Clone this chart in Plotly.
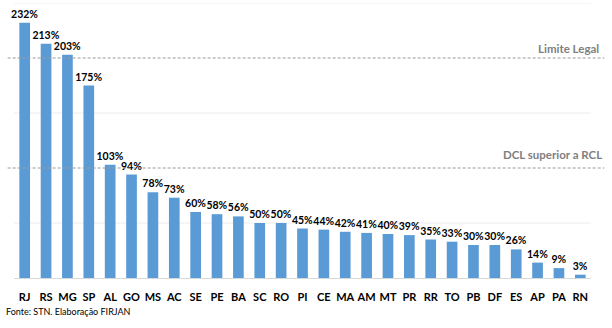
import plotly.graph_objects as go

estados = ["RJ", "RS", "MG", "SP", "AL", "GO", "MS", "AC", "SE", "PE", "BA", "SC", "RO", "PI",
           "CE", "MA", "AM", "MT", "PR", "RR", "TO", "PB", "DF", "ES", "AP", "PA", "RN"]
dcl_rcl = [232, 213, 203, 175, 103, 94, 78, 73, 60, 58, 56, 50, 50, 45,
           44, 42, 41, 40, 39, 35, 33, 30, 30, 26, 14, 9, 3]
limite_legal = 200
dcl_igual_rcl = 100
grid_vals = [50, 150, 250]

BAR = "#5b9bd5"
FONT = "Lato"

fig = go.Figure()
fig.add_trace(go.Bar(
    x=estados, y=dcl_rcl,
    marker=dict(color=BAR, line=dict(width=0)),
    width=0.5,
    text=[f"{v}%" for v in dcl_rcl],
    textposition="outside",
    textfont=dict(family=FONT, size=10.5, color="#000000", weight="bold"),
    cliponaxis=False,
    hoverinfo="x+y",
))

shapes = []
for g in grid_vals:
    shapes.append(dict(type="line", xref="paper", yref="y", x0=0, x1=1, y0=g, y1=g,
                       line=dict(color="#ececec", width=1), layer="below"))
for ref in [limite_legal, dcl_igual_rcl]:
    shapes.append(dict(type="line", xref="paper", yref="y", x0=-0.011, x1=1.023, y0=ref, y1=ref,
                       line=dict(color="#9a9a9a", width=1, dash="3px,2px"), layer="above"))

annotations = [
    dict(text="Limite Legal", xref="paper", yref="y", x=1.017, y=limite_legal, yshift=10,
         xanchor="right", yanchor="middle", showarrow=False,
         font=dict(family=FONT, size=11.5, color="#7f7f7f", weight="bold")),
    dict(text="DCL superior a RCL", xref="paper", yref="y", x=1.022, y=dcl_igual_rcl, yshift=14,
         xanchor="right", yanchor="middle", showarrow=False,
         font=dict(family=FONT, size=11.5, color="#7f7f7f", weight="bold")),
    dict(text="Fonte: STN. Elaboração FIRJAN", xref="paper", yref="paper", x=-0.017, y=0,
         yshift=-33, xanchor="left", yanchor="middle", showarrow=False,
         font=dict(family=FONT, size=9, color="#000000")),
]

fig.update_layout(
    width=612, height=328,
    margin=dict(l=14, r=21, t=3, b=50),
    paper_bgcolor="white", plot_bgcolor="white",
    showlegend=False, bargap=0.5,
    uniformtext=dict(minsize=10.5, mode="show"),
    shapes=shapes, annotations=annotations,
    xaxis=dict(showline=True, linecolor="#d9d9d9", linewidth=1, ticks="",
               tickfont=dict(family=FONT, size=11, color="#000000", weight="bold"),
               ticklabelstandoff=9, showgrid=False),
    yaxis=dict(range=[0, 250], visible=False, showgrid=False, zeroline=False),
)

fig.write_html("out.html")
